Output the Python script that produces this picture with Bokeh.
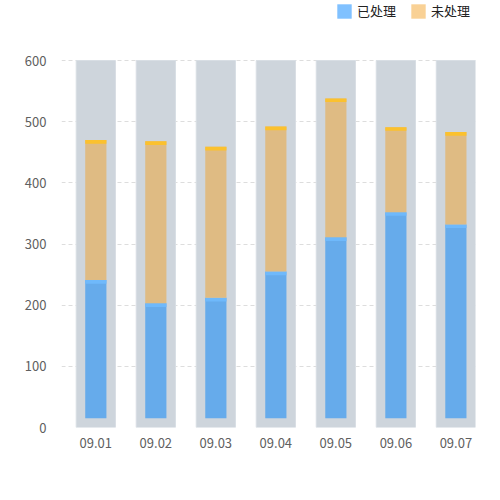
from bokeh.embed import file_html
from bokeh.models import ColumnDataSource, FixedTicker, Legend, LegendItem
from bokeh.plotting import figure
from bokeh.resources import INLINE

dates = ["09.01", "09.02", "09.03", "09.04", "09.05", "09.06", "09.07"]
processed = [241, 203, 212, 255, 311, 352, 332]
unprocessed = [229, 265, 247, 237, 227, 139, 151]
y_max = 600
base = 15

FONT = "Noto Sans CJK SC"
BG_BAR = "#ced5dc"
BLUE = "#66abeb"
BLUE_CAP = "#6fb9fb"
ORANGE = "#dfbb83"
ORANGE_CAP = "#fbc12e"
CAP = 6

idx = list(range(len(dates)))
totals = [p + u for p, u in zip(processed, unprocessed)]
src = ColumnDataSource(dict(
    x=idx,
    full=[y_max] * len(idx),
    base=[base] * len(idx),
    processed=processed,
    processed_cap=[v - CAP for v in processed],
    total=totals,
    total_cap=[v - CAP for v in totals],
))

# frame runs to the top edge so the legend can sit inside it;
# 600 lands 60px below the top
y_top = y_max * 427 / 367
p = figure(
    width=492, height=492, output_backend="svg", toolbar_location=None,
    x_range=(-0.572, 6.327), y_range=(0, y_top),
    min_border_left=61, min_border_right=17, min_border_top=0, min_border_bottom=65,
    outline_line_color=None, background_fill_color="white", border_fill_color="white",
)

p.vbar(x="x", top="full", bottom=0, width=0.654, source=src,
       fill_color=BG_BAR, line_color="#d8dee4", line_width=1)
p.vbar(x="x", top="processed", bottom="base", width=0.353, source=src,
       fill_color=BLUE, line_color=None)
p.vbar(x="x", top="processed", bottom="processed_cap", width=0.353, source=src,
       fill_color=BLUE_CAP, line_color=None)
p.vbar(x="x", top="total", bottom="processed", width=0.353, source=src,
       fill_color=ORANGE, line_color=None)
p.vbar(x="x", top="total", bottom="total_cap", width=0.353, source=src,
       fill_color=ORANGE_CAP, line_color=None)

# legend swatches only, drawn off-screen
sw_blue = p.rect(x=[-10], y=[-10], width=1, height=1, fill_color="#80c1ff", line_color=None)
sw_orange = p.rect(x=[-10], y=[-10], width=1, height=1, fill_color="#f9d195", line_color=None)

legend = Legend(
    items=[LegendItem(label="已处理", renderers=[sw_blue]),
           LegendItem(label="未处理", renderers=[sw_orange])],
    orientation="horizontal", location=(274, 407),
    glyph_width=18, glyph_height=18, label_height=18, label_standoff=4, spacing=13,
    padding=0, margin=0, border_line_color=None, background_fill_alpha=0,
    label_text_font=FONT, label_text_font_size="13px", label_text_color="#222222",
)
p.add_layout(legend, "center")

p.xaxis.ticker = FixedTicker(ticks=idx)
p.xaxis.major_label_overrides = {i: d for i, d in zip(idx, dates)}
p.yaxis.ticker = FixedTicker(ticks=list(range(0, y_max + 1, 100)))
for ax in (p.xaxis, p.yaxis):
    ax.axis_line_color = None
    ax.major_tick_line_color = None
    ax.minor_tick_line_color = None
    ax.major_label_text_font = FONT
    ax.major_label_text_font_size = "13px"
    ax.major_label_text_color = "#606060"
p.xaxis.major_label_standoff = 4
p.yaxis.major_label_standoff = 9

p.xgrid.grid_line_color = None
p.ygrid.grid_line_color = "#dddddd"
p.ygrid.grid_line_dash = "4 3"
p.ygrid.level = "underlay"

open("out.html", "w").write(file_html(p, INLINE))
